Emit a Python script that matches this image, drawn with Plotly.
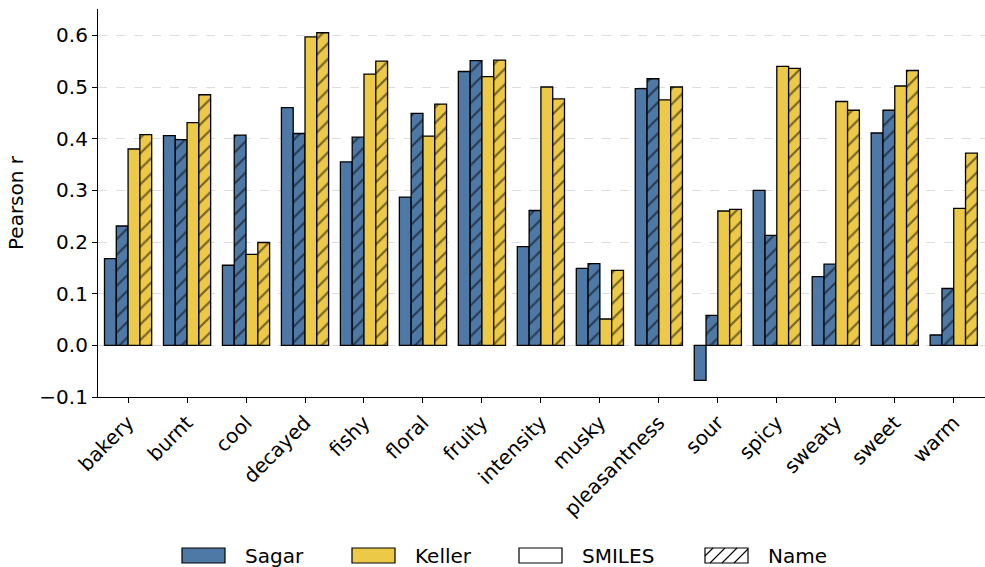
import plotly.graph_objects as go

categories = ["bakery", "burnt", "cool", "decayed", "fishy", "floral", "fruity", "intensity",
              "musky", "pleasantness", "sour", "spicy", "sweaty", "sweet", "warm"]
sagar_smiles = [0.168, 0.406, 0.155, 0.460, 0.355, 0.287, 0.530, 0.191, 0.149, 0.497, -0.068, 0.300, 0.133, 0.411, 0.020]
sagar_name = [0.231, 0.398, 0.407, 0.410, 0.403, 0.449, 0.551, 0.261, 0.158, 0.516, 0.058, 0.213, 0.157, 0.455, 0.110]
keller_smiles = [0.380, 0.431, 0.176, 0.597, 0.525, 0.405, 0.520, 0.500, 0.051, 0.475, 0.260, 0.540, 0.472, 0.502, 0.265]
keller_name = [0.408, 0.485, 0.199, 0.605, 0.550, 0.467, 0.552, 0.477, 0.145, 0.500, 0.263, 0.536, 0.455, 0.532, 0.372]
y_ticks = [-0.1, 0.0, 0.1, 0.2, 0.3, 0.4, 0.5, 0.6]
y_tick_labels = ["\u22120.1", "0.0", "0.1", "0.2", "0.3", "0.4", "0.5", "0.6"]
legend_labels = ["Sagar", "Keller", "SMILES", "Name"]

BLUE = "#4e79a7"
YELLOW = "#edc948"
W, H = 985, 567
ML, MR, MT, MB = 98, 0, 9, 170
PW, PH = W - ML - MR, H - MT - MB
x_idx = list(range(len(categories)))


def px(x):
    return (x - ML) / PW


def py(y):
    return (H - MB - y) / PH


fig = go.Figure()
series = [
    (sagar_smiles, BLUE, ""),
    (sagar_name, BLUE, "/"),
    (keller_smiles, YELLOW, ""),
    (keller_name, YELLOW, "/"),
]
for i, (vals, col, hatch) in enumerate(series):
    fig.add_trace(go.Bar(
        x=x_idx, y=vals, offsetgroup=str(i), showlegend=False,
        marker=dict(color=col, line=dict(color="black", width=1.3),
                    pattern=dict(shape=hatch, fgcolor="black", bgcolor=col, size=11, solidity=0.2)),
    ))

# legend drawn as swatches + labels
legend_fills = [BLUE, YELLOW, "white", "white"]
swatch_x = [182, 352, 519, 705]
sw_w, sw_top, sw_bot = 43, 548, 563
shapes = []
annotations = []
for lab, fill, sx in zip(legend_labels, legend_fills, swatch_x):
    shapes.append(dict(type="rect", xref="paper", yref="paper",
                       x0=px(sx), x1=px(sx + sw_w), y0=py(sw_bot), y1=py(sw_top),
                       fillcolor=fill, line=dict(color="black", width=1.2)))
    annotations.append(dict(text=lab, xref="paper", yref="paper", x=px(sx + sw_w + 18),
                            y=py(556), xanchor="left", yanchor="middle", showarrow=False,
                            font=dict(size=20, color="black")))
# hatch in the "Name" swatch
sx = swatch_x[3]
for k in range(4):
    x0 = sx + k * 12 - 7
    x1 = x0 + 15
    xa, ya = x0, sw_bot
    xb, yb = x1, sw_top
    if xa < sx:
        ya = sw_bot - (sx - xa)
        xa = sx
    if xb > sx + sw_w:
        yb = sw_top + (xb - (sx + sw_w))
        xb = sx + sw_w
    if xa >= xb:
        continue
    shapes.append(dict(type="line", xref="paper", yref="paper",
                       x0=px(xa), x1=px(xb), y0=py(ya), y1=py(yb),
                       line=dict(color="black", width=1.1)))

fig.update_layout(
    width=W, height=H,
    margin=dict(l=ML, r=MR, t=MT, b=MB),
    plot_bgcolor="white", paper_bgcolor="white",
    barmode="group", bargap=0.2, bargroupgap=0,
    font=dict(family="DejaVu Sans", size=20, color="black"),
    showlegend=False,
    shapes=shapes, annotations=annotations,
)
fig.update_xaxes(
    tickmode="array", tickvals=x_idx, ticktext=categories, tickangle=-45,
    range=[-0.51, 14.53], showline=True, linecolor="black", linewidth=1.2,
    ticks="outside", ticklen=5, tickcolor="black", showgrid=False, zeroline=False,
    tickfont=dict(size=20), automargin=False,
)
fig.update_yaxes(
    tickmode="array", tickvals=y_ticks, ticktext=y_tick_labels,
    range=[-0.1, 0.651], showline=True, linecolor="black", linewidth=1.2,
    ticks="outside", ticklen=5, tickcolor="black",
    showgrid=True, gridcolor="#dddddd", griddash="dash", gridwidth=1, zeroline=False,
    title=dict(text="Pearson r", font=dict(size=20), standoff=10),
    tickfont=dict(size=20), automargin=False,
)
fig.write_html("out.html", config={"displayModeBar": False},
               post_script="document.body.style.margin='0';document.body.style.overflow='hidden';")
